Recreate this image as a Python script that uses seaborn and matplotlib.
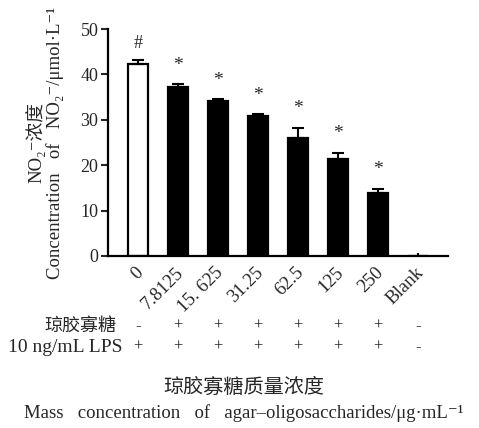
import numpy as np
import pandas as pd
import matplotlib
matplotlib.use("Agg")
import matplotlib.pyplot as plt
import matplotlib.transforms as mtransforms
import seaborn as sns

# Data
categories = ["0", "7.8125", "15. 625", "31.25", "62.5", "125", "250", "Blank"]
means = [42.4, 37.3, 34.2, 30.9, 26.1, 21.4, 13.9, 0.0]
sds = [0.8, 0.5, 0.4, 0.3, 2.2, 1.4, 0.9, 0.6]
marks = ["#", "*", "*", "*", "*", "*", "*", ""]
agar_row = ["-", "+", "+", "+", "+", "+", "+", "-"]
lps_row = ["+", "+", "+", "+", "+", "+", "+", "-"]
yticks = [0, 10, 20, 30, 40, 50]

sns.set_theme(style="ticks")
plt.rcParams["font.family"] = ["Liberation Serif", "DejaVu Serif", "Noto Sans CJK SC"]
plt.rcParams["axes.unicode_minus"] = False

fig = plt.figure(figsize=(4.79, 4.28), dpi=100)
ax = fig.add_axes([0.2255, 0.402, 0.7095, 0.530])

df = pd.DataFrame({"group": categories, "value": means})
colors = ["white"] + ["black"] * (len(categories) - 1)
sns.barplot(data=df, x="group", y="value", hue="group", palette=colors,
            legend=False, width=0.5, edgecolor="black", linewidth=1.6,
            errorbar=None, ax=ax)

xs = np.arange(len(categories))
m = np.array(means)
s = np.array(sds)
# treated groups: upper error bars with caps; blank: bare stub
ax.errorbar(xs[:-1], m[:-1], yerr=[np.zeros(len(s) - 1), s[:-1]], fmt="none",
            ecolor="black", elinewidth=1.5, capsize=4, capthick=1.5)
ax.errorbar(xs[-1:], m[-1:], yerr=[[0], s[-1:]], fmt="none",
            ecolor="black", elinewidth=1.5, capsize=0)

for x, mv, sv, t in zip(xs, means, sds, marks):
    if not t:
        continue
    if t == "#":
        ax.text(x, mv + sv + 1.8, t, ha="center", va="bottom", fontsize=13)
    else:
        ax.text(x, mv + sv + 2.3, t, ha="center", va="bottom", fontsize=14)

ax.set_xlim(-0.75, 7.75)
ax.set_ylim(0, 50)
ax.set_yticks(yticks)
ax.set_yticklabels([str(v) for v in yticks], fontsize=13)
ax.tick_params(axis="y", length=5, width=1.5, direction="out", pad=2)
ax.tick_params(axis="x", length=0, pad=10)
ax.set_xticks(xs)
ax.set_xticklabels(categories, rotation=45, ha="right", va="center",
                   rotation_mode="anchor", fontsize=13.5)
offset = mtransforms.ScaledTranslation(3 / 100, 0, fig.dpi_scale_trans)
for lab in ax.get_xticklabels():
    lab.set_transform(lab.get_transform() + offset)

sns.despine(ax=ax)
for side in ("left", "bottom"):
    ax.spines[side].set_linewidth(1.6)
    ax.spines[side].set_color("black")

ax.set_xlabel("")
ax.set_ylabel("NO₂⁻浓度\nConcentration   of   NO₂⁻/μmol·L⁻¹", fontsize=13.5,
              linespacing=1.05, labelpad=12)

# Treatment table under the axis
blend = mtransforms.blended_transform_factory(ax.transData, fig.transFigure)
row_y = [1 - 326 / 428, 1 - 347 / 428]
for x, a, b in zip(xs, agar_row, lps_row):
    ax.text(x, row_y[0], a, transform=blend, ha="center", va="center", fontsize=12)
    ax.text(x, row_y[1], b, transform=blend, ha="center", va="center", fontsize=12)
fig.text(116 / 479, row_y[0], "琼胶寡糖", ha="right", va="center", fontsize=13)
fig.text(123 / 479, row_y[1], "10 ng/mL LPS", ha="right", va="center", fontsize=14)

fig.text(244 / 479, 1 - 388 / 428, "琼胶寡糖质量浓度", ha="center", va="center", fontsize=14.5)
fig.text(244 / 479, 1 - 413 / 428,
         "Mass   concentration   of   agar–oligosaccharides/μg·mL⁻¹",
         ha="center", va="center", fontsize=13.5)

fig.savefig("out.png", dpi=100)
